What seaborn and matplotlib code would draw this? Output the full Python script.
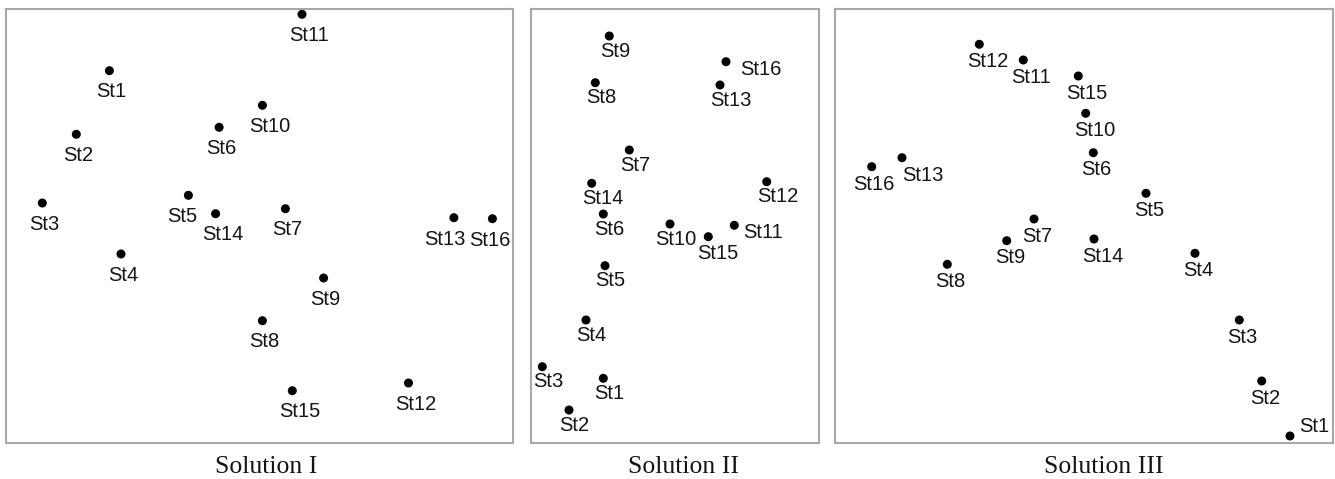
import matplotlib
matplotlib.use("Agg")
import matplotlib.pyplot as plt
import pandas as pd
import seaborn as sns

# Station configurations for the three solutions (dimension 1, dimension 2)
stations = ["St1", "St2", "St3", "St4", "St5", "St6", "St7", "St8",
            "St9", "St10", "St11", "St12", "St13", "St14", "St15", "St16"]

sol1_dim1 = [103.4, 70.3, 36.3, 115.0, 182.4, 213.1, 279.4, 256.4,
             317.6, 256.4, 296.0, 402.5, 447.9, 209.6, 286.3, 486.4]
sol1_dim2 = [372.3, 308.7, 240.0, 189.0, 247.7, 315.7, 234.3, 122.3,
             165.0, 337.7, 428.7, 60.0, 225.3, 229.3, 52.3, 224.3]

sol2_dim1 = [72.3, 38.0, 11.3, 55.0, 74.0, 72.3, 98.3, 64.3,
             78.3, 139.0, 203.3, 235.7, 189.0, 60.7, 177.3, 195.0]
sol2_dim2 = [64.7, 33.0, 76.3, 123.0, 177.3, 229.0, 293.0, 360.3,
             407.0, 219.0, 217.7, 261.3, 358.0, 259.7, 206.3, 381.3]

sol3_dim1 = [455.0, 426.7, 404.3, 360.0, 311.0, 258.3, 199.0, 112.3,
             171.7, 250.7, 188.3, 144.3, 67.0, 259.0, 243.3, 36.7]
sol3_dim2 = [7.0, 62.0, 123.0, 189.7, 249.7, 290.3, 224.0, 178.7,
             202.3, 329.7, 383.0, 398.7, 285.3, 204.0, 367.0, 276.3]

titles = ["Solution I", "Solution II", "Solution III"]

sns.set_style("white")
plt.rcParams["font.family"] = ["Liberation Sans", "DejaVu Sans"]

W, H = 1335, 479
fig = plt.figure(figsize=(W / 100, H / 100), dpi=100)

# panel frames in pixels: left, right, top, bottom
frames = [(6, 513, 9, 443), (531, 819, 9, 443), (835, 1333, 9, 443)]

# default label placement (pixels: left shift, baseline drop) per panel
label_defaults = [(-13, -26.7), (-9.4, -20.6), (-11.8, -22.6)]
# individual label placements that differ from the default
label_nudges = [
    {"St5": (-21, -26.7), "St13": (-30, -27.2), "St16": (-23, -27.2)},
    {"St16": (13.7, -13.5), "St10": (-15.3, -20.7), "St11": (9, -12.7),
     "St15": (-11.6, -22.3)},
    {"St16": (-18.7, -23), "St13": (-0.3, -23), "St1": (9, 3.8)},
]

title_x = [266, 684, 1104]

solutions = [(sol1_dim1, sol1_dim2), (sol2_dim1, sol2_dim2), (sol3_dim1, sol3_dim2)]

for i, ((d1, d2), (l, r, t, b)) in enumerate(zip(solutions, frames)):
    ax = fig.add_axes([l / W, (H - b) / H, (r - l) / W, (b - t) / H])
    df = pd.DataFrame({"station": stations, "dim1": d1, "dim2": d2})
    sns.scatterplot(data=df, x="dim1", y="dim2", ax=ax, color="black",
                    s=42, edgecolor="none", linewidth=0, legend=False)
    ax.set_xlim(0, r - l)
    ax.set_ylim(0, b - t)
    ax.set_xticks([])
    ax.set_yticks([])
    ax.set_xlabel("")
    ax.set_ylabel("")
    for sp in ax.spines.values():
        sp.set_visible(True)
        sp.set_color("#a8a8a8")
        sp.set_linewidth(1.5)
    dx0, dy0 = label_defaults[i]
    for name, x, y in zip(stations, d1, d2):
        dx, dy = label_nudges[i].get(name, (dx0, dy0))
        ax.annotate(name, (x, y), xytext=(dx, dy), textcoords="offset pixels",
                    ha="left", va="baseline", fontsize=14.5, color="#151515",
                    annotation_clip=False)
    fig.text(title_x[i] / W, (H - 473) / H, titles[i], ha="center",
             va="baseline", fontsize=18.5, color="#151515",
             family=["Liberation Serif", "DejaVu Serif"])

fig.savefig("out.png", dpi=100)
